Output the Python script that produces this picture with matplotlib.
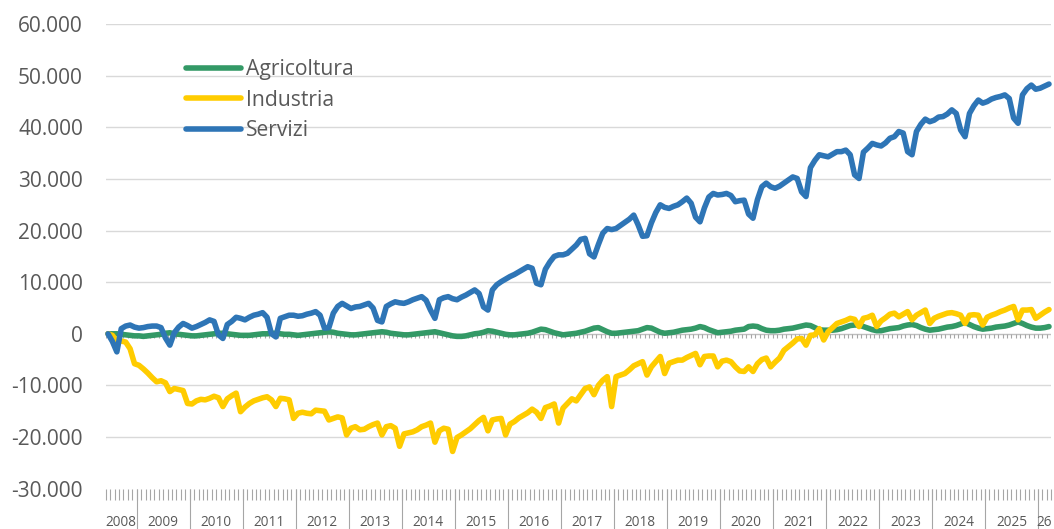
import numpy as np
import pandas as pd
import matplotlib
matplotlib.use("Agg")
import matplotlib.pyplot as plt

plt.rcParams['font.family'] = ['Open Sans', 'DejaVu Sans']

# ----------------- Data (migliaia, giu 2008 - mar 2026) -----------------
months = pd.date_range("2008-06-01", "2026-03-01", freq="MS")

agricoltura = [
    0.0, 0.0, 0.0, -0.1, -0.2, -0.3, -0.4,
    -0.4, -0.5, -0.4, -0.3, -0.2, -0.1, 0.1, 0.2, 0.0, -0.1, -0.2, -0.3,
    -0.4, -0.4, -0.3, -0.2, -0.1, 0.0, 0.1, 0.1, 0.0, -0.1, -0.2, -0.3,
    -0.3, -0.3, -0.2, -0.1, 0.0, 0.0, 0.1, 0.1, 0.0, -0.1, -0.1, -0.2,
    -0.3, -0.2, -0.1, 0.0, 0.1, 0.2, 0.3, 0.4, 0.3, 0.1, 0.0, -0.1,
    -0.2, -0.2, -0.1, 0.0, 0.1, 0.2, 0.3, 0.4, 0.3, 0.1, 0.0, -0.1,
    -0.2, -0.2, -0.1, 0.0, 0.1, 0.2, 0.3, 0.4, 0.2, 0.0, -0.2, -0.4,
    -0.5, -0.5, -0.4, -0.2, 0.0, 0.1, 0.3, 0.6, 0.5, 0.3, 0.1, -0.1,
    -0.2, -0.2, -0.1, 0.0, 0.1, 0.3, 0.6, 0.9, 0.8, 0.5, 0.2, 0.0,
    -0.2, -0.1, 0.0, 0.1, 0.3, 0.5, 0.8, 1.1, 1.2, 0.8, 0.4, 0.1,
    0.1, 0.2, 0.3, 0.4, 0.5, 0.6, 0.9, 1.2, 1.1, 0.7, 0.3, 0.1,
    0.2, 0.3, 0.5, 0.7, 0.8, 0.9, 1.1, 1.4, 1.2, 0.8, 0.5, 0.2,
    0.3, 0.4, 0.5, 0.7, 0.8, 0.9, 1.4, 1.5, 1.4, 1.0, 0.7, 0.6,
    0.6, 0.7, 0.9, 1.0, 1.1, 1.3, 1.5, 1.7, 1.6, 1.2, 0.8, 0.7,
    0.7, 0.7, 0.8, 1.0, 1.3, 1.6, 1.7, 1.7, 1.4, 1.1, 0.8, 0.6,
    0.6, 0.8, 1.0, 1.1, 1.2, 1.5, 1.7, 1.8, 1.6, 1.2, 0.9, 0.7,
    0.8, 0.9, 1.1, 1.3, 1.4, 1.6, 1.9, 2.2, 1.8, 1.4, 1.1, 0.9,
    1.0, 1.1, 1.3, 1.4, 1.5, 1.7, 2.0, 2.3, 2.0, 1.6, 1.3, 1.1,
    1.1, 1.2, 1.4,
]

industria = [
    0.0, -0.3, -1.5, -1.4, -1.6, -2.9, -5.8,
    -6.1, -6.8, -7.6, -8.5, -9.3, -9.1, -9.5, -11.2, -10.6, -10.8, -11.0, -13.5,
    -13.6, -13.0, -12.7, -12.8, -12.5, -12.1, -12.4, -14.1, -12.6, -12.0, -11.5, -15.1,
    -14.2, -13.5, -13.0, -12.7, -12.4, -12.2, -12.8, -14.1, -12.5, -12.6, -12.8, -16.4,
    -15.4, -15.2, -15.4, -15.5, -14.8, -14.9, -15.0, -16.7, -16.4, -16.1, -16.3, -19.6,
    -18.3, -18.0, -18.6, -18.5, -18.0, -17.6, -17.3, -19.6, -18.0, -17.8, -18.3, -21.8,
    -19.4, -19.2, -19.0, -18.6, -18.0, -17.7, -17.3, -21.0, -18.8, -18.3, -18.5, -22.8,
    -20.1, -19.6, -19.0, -18.4, -17.6, -16.8, -16.2, -18.8, -16.7, -16.5, -16.4, -19.6,
    -17.5, -17.0, -16.3, -15.8, -15.3, -14.6, -15.2, -16.4, -14.3, -14.0, -13.6, -17.3,
    -14.4, -13.5, -12.6, -13.0, -11.8, -10.6, -10.3, -11.8, -10.0, -9.0, -8.3, -14.1,
    -8.3, -8.0, -7.7, -7.0, -6.2, -5.8, -5.4, -8.0, -6.4, -5.4, -4.4, -7.7,
    -5.7, -5.4, -5.1, -5.1, -4.6, -4.2, -3.8, -6.0, -4.4, -4.3, -4.3, -6.4,
    -5.3, -5.1, -5.4, -6.4, -7.2, -7.3, -6.4, -7.3, -5.8, -5.0, -4.7, -6.4,
    -5.5, -4.7, -3.2, -2.5, -1.8, -1.0, -0.9, -2.2, -0.3, -0.2, 1.0, -1.2,
    0.4, 1.2, 2.0, 2.3, 2.6, 3.0, 2.8, 1.4, 3.0, 3.2, 3.6, 1.4,
    2.5, 3.1, 3.8, 4.0, 3.3, 3.8, 4.3, 2.7, 3.6, 4.1, 4.6, 2.0,
    3.0, 3.4, 3.7, 4.0, 4.1, 3.9, 3.6, 2.0, 3.6, 3.7, 3.6, 1.7,
    3.2, 3.6, 3.9, 4.3, 4.6, 5.0, 5.3, 2.7, 4.6, 4.6, 4.7, 3.0,
    3.6, 4.2, 4.7,
]

servizi = [
    0.0, -1.5, -3.5, 1.0, 1.5, 1.7, 1.3,
    1.1, 1.2, 1.4, 1.5, 1.5, 1.2, -0.8, -2.2, 0.2, 1.3, 2.0, 1.6,
    1.1, 1.4, 1.8, 2.2, 2.7, 2.4, -0.2, -0.9, 1.8, 2.4, 3.2, 3.0,
    2.7, 3.2, 3.6, 3.8, 4.1, 3.2, 0.0, -0.6, 3.0, 3.3, 3.6, 3.6,
    3.4, 3.5, 3.8, 4.0, 4.3, 3.6, 1.1, 1.2, 4.0, 5.3, 5.9, 5.4,
    4.9, 5.2, 5.3, 5.6, 5.9, 5.0, 2.6, 2.3, 5.3, 5.8, 6.2, 6.0,
    5.9, 6.2, 6.6, 6.9, 7.2, 6.5, 4.6, 3.0, 6.6, 7.0, 7.2, 6.8,
    6.6, 7.1, 7.5, 8.0, 8.5, 7.8, 5.2, 4.6, 8.5, 9.5, 10.1, 10.6,
    11.1, 11.5, 12.0, 12.5, 13.0, 12.7, 9.8, 9.5, 12.5, 13.9, 15.0, 15.3,
    15.3, 15.6, 16.4, 17.2, 18.3, 18.5, 15.5, 14.9, 17.3, 19.5, 20.4, 20.2,
    20.4, 21.0, 21.6, 22.2, 23.0, 21.1, 18.9, 19.0, 21.5, 23.5, 25.0, 24.5,
    24.3, 24.7, 25.0, 25.6, 26.3, 25.3, 22.6, 21.7, 24.4, 26.5, 27.2, 26.9,
    27.0, 27.2, 26.8, 25.6, 25.8, 25.9, 23.2, 22.4, 26.0, 28.5, 29.2, 28.5,
    28.2, 28.6, 29.2, 29.8, 30.4, 30.1, 27.5, 26.6, 32.2, 33.6, 34.7, 34.5,
    34.3, 34.8, 35.3, 35.3, 35.6, 34.7, 30.8, 30.1, 35.2, 36.0, 36.9, 36.6,
    36.4, 37.0, 37.9, 38.2, 39.2, 38.9, 35.3, 34.7, 39.2, 40.6, 41.6, 41.1,
    41.4, 42.0, 42.1, 42.6, 43.4, 42.7, 39.5, 38.2, 42.7, 44.2, 45.3, 44.7,
    45.0, 45.5, 45.8, 46.0, 46.3, 45.6, 41.8, 40.8, 46.3, 47.5, 48.2, 47.4,
    47.6, 48.0, 48.4,
]

series_names = ["Agricoltura", "Industria", "Servizi"]
series_colors = ["#339966", "#FFCC00", "#2E75B6"]
y_ticks = list(range(-30000, 60001, 10000))
year_labels = ["2008"] + [str(y) for y in range(2009, 2026)] + ["26"]

# ----------------- Figure -----------------
W, H = 1054, 529
L, R, T, B = 105.8, 1051.2, 24.2, 488.6
fig = plt.figure(figsize=(W / 100, H / 100), dpi=100)
ax = fig.add_axes([L / W, 1 - B / H, (R - L) / W, (B - T) / H])
n = len(months)
ax.set_xlim(-0.5, n - 0.5)
ax.set_ylim(-30000, 60000)
px = 90000 / (B - T)  # data units per pixel

for s in ax.spines.values():
    s.set_visible(False)

# grid
for v in y_ticks[1:]:
    if v != 0:
        ax.axhline(v, color="#D9D9D9", lw=1.0, zorder=0)
ax.axhline(0, color="#BFBFBF", lw=1.0, zorder=1)

# y labels
ax.set_yticks(y_ticks)
ax.set_yticklabels([f"{v:,}".replace(",", ".") for v in y_ticks])
ax.tick_params(axis="y", length=0, pad=16.5, labelsize=15, labelcolor="#595959")
ax.set_xticks([])

# category ticks
tick_x = np.arange(-0.5, n, 1.0)
sep_x = np.arange(6.5, n, 12)
ax.vlines(tick_x, 0, -4 * px, color="#A6A6A6", lw=0.8, zorder=1)
ax.vlines(tick_x, -30000, -30000 - 11 * px, color="#A6A6A6", lw=0.8, clip_on=False)
ax.vlines(sep_x, -30000, -30000 - 41 * px, color="#A6A6A6", lw=0.8, clip_on=False)
edges = np.concatenate([[-0.5], sep_x, [n - 0.5]])
for lab, a, b in zip(year_labels, edges[:-1], edges[1:]):
    ax.text((a + b) / 2, -30000 - 34 * px, lab, ha="center", va="center",
            fontsize=9.8, color="#595959", clip_on=False)

# series
x = np.arange(n)
handles = []
for name, vals, col in zip(series_names, [agricoltura, industria, servizi], series_colors):
    ln, = ax.plot(x, np.array(vals) * 1000, color=col, lw=4.0, label=name,
                  solid_joinstyle="round", solid_capstyle="round", zorder=3, clip_on=False)
    handles.append(ln)

ax.legend(handles, series_names, loc="upper left", bbox_to_anchor=(186 / W, 1 - 59 / H),
          bbox_transform=fig.transFigure, frameon=False, fontsize=15.2,
          handlelength=2.6, handletextpad=0.24, borderpad=0, borderaxespad=0,
          labelspacing=0.46, labelcolor="#595959")

fig.savefig("out.png", dpi=100)
